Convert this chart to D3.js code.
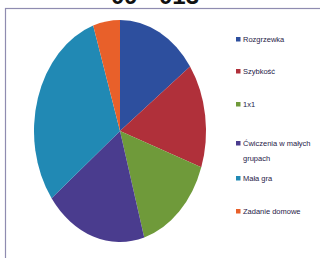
<!DOCTYPE html>
<html>
<head>
<meta charset="utf-8">
<script src="https://cdnjs.cloudflare.com/ajax/libs/d3/7.8.5/d3.min.js"></script>
<style>
body { margin:0; background:#fff; }
svg { display:block; }
</style>
</head>
<body>
<svg width="320" height="258"></svg>
<script>
// data (percent of training time)
var categories = ["Rozgrzewka", "Szybkość", "1x1", "Ćwiczenia w małych grupach", "Mała gra", "Zadanie domowe"];
var values = [15, 15, 15, 19, 30, 5];
var colors = ["#2d4f9e", "#b0303a", "#6f9a3a", "#4a3c8e", "#2189b4", "#e8602a"];
var legendLines = [["Rozgrzewka"], ["Szybkość"], ["1x1"], ["Ćwiczenia w małych", "grupach"], ["Mała gra"], ["Zadanie domowe"]];
var legendY = [41, 73, 106, 145, 180, 213];

var svg = d3.select("svg");

// frame of the chart area
svg.append("rect")
  .attr("x", 5.5).attr("y", 8.5)
  .attr("width", 330).attr("height", 260)
  .attr("fill", "#fff")
  .attr("stroke", "#8f8cb0")
  .attr("stroke-width", 1.2);

// title, mostly cut off at the top
svg.append("text")
  .attr("x", 155).attr("y", 4)
  .attr("text-anchor", "middle")
  .attr("font-family", "Liberation Sans, Arial, sans-serif")
  .attr("font-weight", "bold")
  .attr("font-size", 24)
  .attr("fill", "#111")
  .text("09 - 013");

var pie = d3.pie().sort(null).value(function(d) { return d; });
var r = 100;
var arc = d3.arc().innerRadius(0).outerRadius(r);

var g = svg.append("g")
  .attr("transform", "translate(120,131) scale(" + (86 / r) + "," + (111 / r) + ")");

g.selectAll("path")
  .data(pie(values))
  .enter()
  .append("path")
    .attr("d", arc)
    .attr("fill", function(d, i) { return colors[i]; });

var leg = svg.append("g");
leg.selectAll("rect")
  .data(categories)
  .enter()
  .append("rect")
    .attr("x", 236)
    .attr("y", function(d, i) { return legendY[i] - 4; })
    .attr("width", 4.5).attr("height", 4.5)
    .attr("fill", function(d, i) { return colors[i]; });

leg.selectAll("text")
  .data(categories)
  .enter()
  .append("text")
    .attr("x", 243)
    .attr("y", function(d, i) { return legendY[i] + 1; })
    .attr("font-family", "Liberation Sans Narrow, Liberation Sans, Arial, sans-serif")
    .attr("font-size", 7.5)
    .attr("fill", "#1f2148")
    .each(function(d, i) {
      var t = d3.select(this);
      legendLines[i].forEach(function(line, j) {
        t.append("tspan").attr("x", 243).attr("dy", j ? 15 : 0).text(line);
      });
    });
</script>
</body>
</html>
